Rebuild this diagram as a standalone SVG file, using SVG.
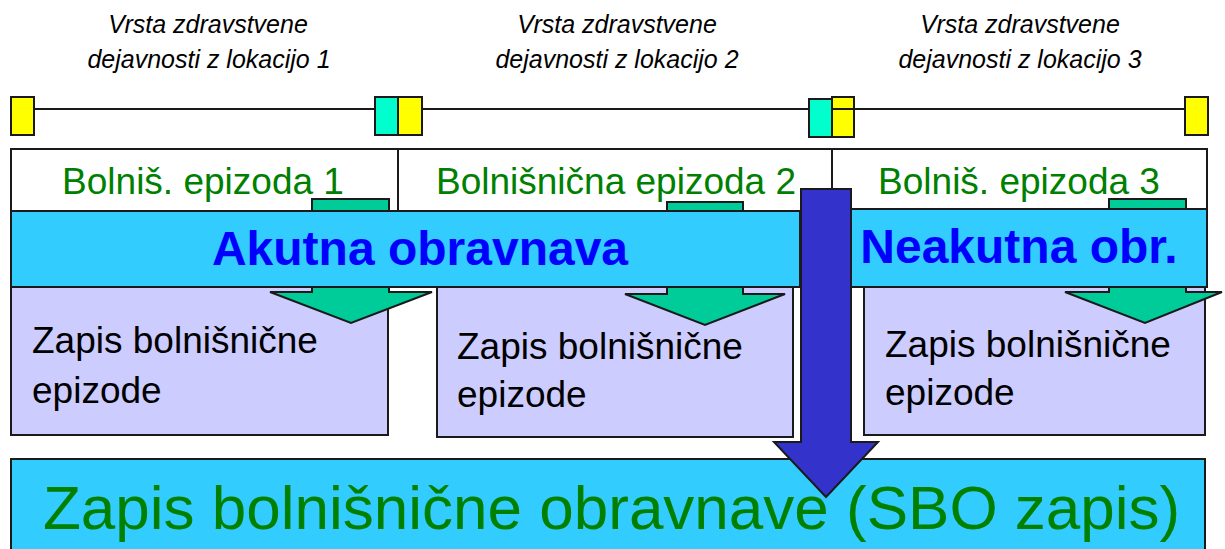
<svg xmlns="http://www.w3.org/2000/svg" width="1225" height="549" viewBox="0 0 1225 549">
<style>
.ln{stroke:#1a1a1a;stroke-width:2}
.yel{fill:#FFFF00;stroke:#1a1a1a;stroke-width:2}
.cya{fill:#00FFCC;stroke:#1a1a1a;stroke-width:2}
.band{fill:#33CCFF;stroke:#1a1a1a;stroke-width:2}
.lav{fill:#CCCCFF;stroke:#1a1a1a;stroke-width:2}
.garr{fill:#00CC99;stroke:#1a1a1a;stroke-width:2;stroke-linejoin:miter}
.barr{fill:#3333CC;stroke:#1a1a1a;stroke-width:2}
.loc{font-family:"Liberation Sans",Arial,sans-serif;font-style:italic;font-size:25px;fill:#000;text-anchor:middle}
.ep{font-family:"Liberation Sans",Arial,sans-serif;font-size:37px;fill:#008000;text-anchor:middle}
.bt{font-family:"Liberation Sans",Arial,sans-serif;font-weight:bold;font-size:48px;fill:#0000FF;text-anchor:middle}
.rec{font-family:"Liberation Sans",Arial,sans-serif;font-size:37px;fill:#000}
.big{font-family:"Liberation Sans",Arial,sans-serif;font-size:62px;fill:#008000}
</style>

<g id="location-labels">
<text class="loc" x="208" y="33">Vrsta zdravstvene</text>
<text class="loc" x="209" y="68">dejavnosti z lokacijo 1</text>
<text class="loc" x="617" y="33">Vrsta zdravstvene</text>
<text class="loc" x="617" y="68">dejavnosti z lokacijo 2</text>
<text class="loc" x="1020" y="33">Vrsta zdravstvene</text>
<text class="loc" x="1020" y="68">dejavnosti z lokacijo 3</text>
</g>

<g id="timeline">
<line class="ln" x1="34" y1="109" x2="1185" y2="109"/>
<rect class="yel" x="11" y="97" width="23" height="38"/>
<rect class="cya" x="375" y="97" width="23" height="38"/>
<rect class="yel" x="398" y="97" width="24" height="38"/>
<rect class="cya" x="809" y="99" width="23" height="38"/>
<rect class="yel" x="832" y="97" width="22" height="40"/>
<line class="ln" x1="832" y1="109" x2="854" y2="109"/>
<rect class="yel" x="1185" y="97" width="23" height="38"/>
</g>

<g id="episodes">
<rect x="11" y="149" width="1196" height="62" fill="#fff" stroke="#1a1a1a" stroke-width="2"/>
<line class="ln" x1="398" y1="149" x2="398" y2="211"/>
<line class="ln" x1="832" y1="149" x2="832" y2="211"/>
<text class="ep" x="203" y="194">Bolniš. epizoda 1</text>
<text class="ep" x="616" y="194">Bolnišnična epizoda 2</text>
<text class="ep" x="1019" y="194">Bolniš. epizoda 3</text>
</g>

<g id="episode-records">
<rect class="lav" x="11" y="287" width="377" height="148"/>
<text class="rec" x="32" y="353">Zapis bolnišnične</text>
<text class="rec" x="32" y="403">epizode</text>
<rect class="lav" x="437" y="287" width="356" height="150"/>
<text class="rec" x="457" y="359">Zapis bolnišnične</text>
<text class="rec" x="457" y="407">epizode</text>
<rect class="lav" x="864" y="287" width="341" height="148"/>
<text class="rec" x="885" y="357">Zapis bolnišnične</text>
<text class="rec" x="885" y="405">epizode</text>
</g>

<g id="connectors">
<polygon class="garr" points="312,199 389,199 389,292 432,292 351,323 270,292 312,292"/>
<polygon class="garr" points="667,202 743,202 743,294 785,294 705,325 625,294 667,294"/>
<polygon class="garr" points="1109,199 1186,199 1186,292 1222,292 1145,323 1065,292 1109,292"/>
</g>

<g id="bands">
<rect class="band" x="11" y="211" width="789" height="76"/>
<text class="bt" x="420" y="265">Akutna obravnava</text>
<rect class="band" x="845" y="209" width="362" height="78"/>
<text class="bt" x="1019" y="263">Neakutna obr.</text>
</g>

<g id="sbo-record">
<rect class="band" x="11" y="459" width="1194" height="100"/>
<text class="big" x="43" y="529">Zapis bolnišnične obravnave (SBO zapis)</text>
</g>

<g id="main-arrow">
<polygon class="barr" points="801,189 851,189 851,442 878,442 826,497 774,442 801,442"/>
</g>
</svg>
